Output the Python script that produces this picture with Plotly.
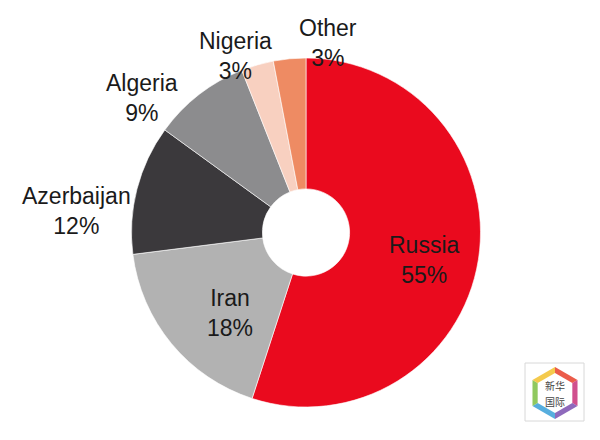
import math
import plotly.graph_objects as go

countries = ["Russia", "Iran", "Azerbaijan", "Algeria", "Nigeria", "Other"]
shares = [55, 18, 12, 9, 3, 3]
colors = ["#EA0A1E", "#B2B2B2", "#3B393C", "#8C8C8E", "#F8D0C0", "#EE8B63"]

W, H = 600, 440

def px(x):
    return x / W

def py(y):
    return 1 - y / H

fig = go.Figure(go.Pie(
    labels=countries, values=shares, sort=False, direction="clockwise",
    rotation=0, hole=0.25, textinfo="none", hoverinfo="label+percent",
    marker=dict(colors=colors, line=dict(color="rgba(255,255,255,0.6)", width=1)),
    domain=dict(x=[px(123.5), px(472.5)], y=[py(399), py(50)]),
    showlegend=False,
))

# label block centres (pixels)
label_pos = {
    "Russia": (416, 252),
    "Iran": (222, 305),
    "Azerbaijan": (68, 203),
    "Algeria": (134, 90),
    "Nigeria": (227, 48),
    "Other": (320, 35),
}
for c, v in zip(countries, shares):
    x, y = label_pos[c]
    fig.add_annotation(x=px(x), y=py(y), xref="paper", yref="paper",
                       text=f"{c}<br>{v}%", showarrow=False,
                       font=dict(family="Liberation Sans, Arial", size=23, color="#1a1a1a"),
                       align="center", xanchor="center", yanchor="middle")

# watermark logo (decoration)
shapes = []
bx0, by0, bx1, by1 = 517, 355, 576, 413
shapes.append(dict(type="rect", xref="paper", yref="paper",
                   x0=px(bx0), x1=px(bx1), y0=py(by1), y1=py(by0),
                   line=dict(color="#d8d8d8", width=1), fillcolor="white"))
cx, cy, ro, ri = 547, 385, 26, 20
seg_cols = ["#E8402A", "#C8307A", "#7A4FB0", "#3AA0D8", "#7CC043", "#F2C12E"]
for i in range(6):
    a0 = math.radians(-90 + 60 * i)
    a1 = math.radians(-90 + 60 * (i + 1))
    pts = [(cx + ro * math.cos(a0), cy + ro * math.sin(a0)),
           (cx + ro * math.cos(a1), cy + ro * math.sin(a1)),
           (cx + ri * math.cos(a1), cy + ri * math.sin(a1)),
           (cx + ri * math.cos(a0), cy + ri * math.sin(a0))]
    path = "M " + " L ".join(f"{px(x):.5f},{py(y):.5f}" for x, y in pts) + " Z"
    shapes.append(dict(type="path", xref="paper", yref="paper", path=path,
                       fillcolor=seg_cols[i], line=dict(width=0), opacity=0.85))
for txt, yy in (("新华", 377), ("国际", 393)):
    fig.add_annotation(x=px(cx), y=py(yy), xref="paper", yref="paper",
                       text=txt, showarrow=False,
                       font=dict(family="Noto Sans CJK SC", size=10, color="#444444"),
                       xanchor="center", yanchor="middle")

fig.update_layout(width=W, height=H, margin=dict(l=0, r=0, t=0, b=0),
                  paper_bgcolor="white", plot_bgcolor="white", shapes=shapes)
fig.write_html("out.html")
